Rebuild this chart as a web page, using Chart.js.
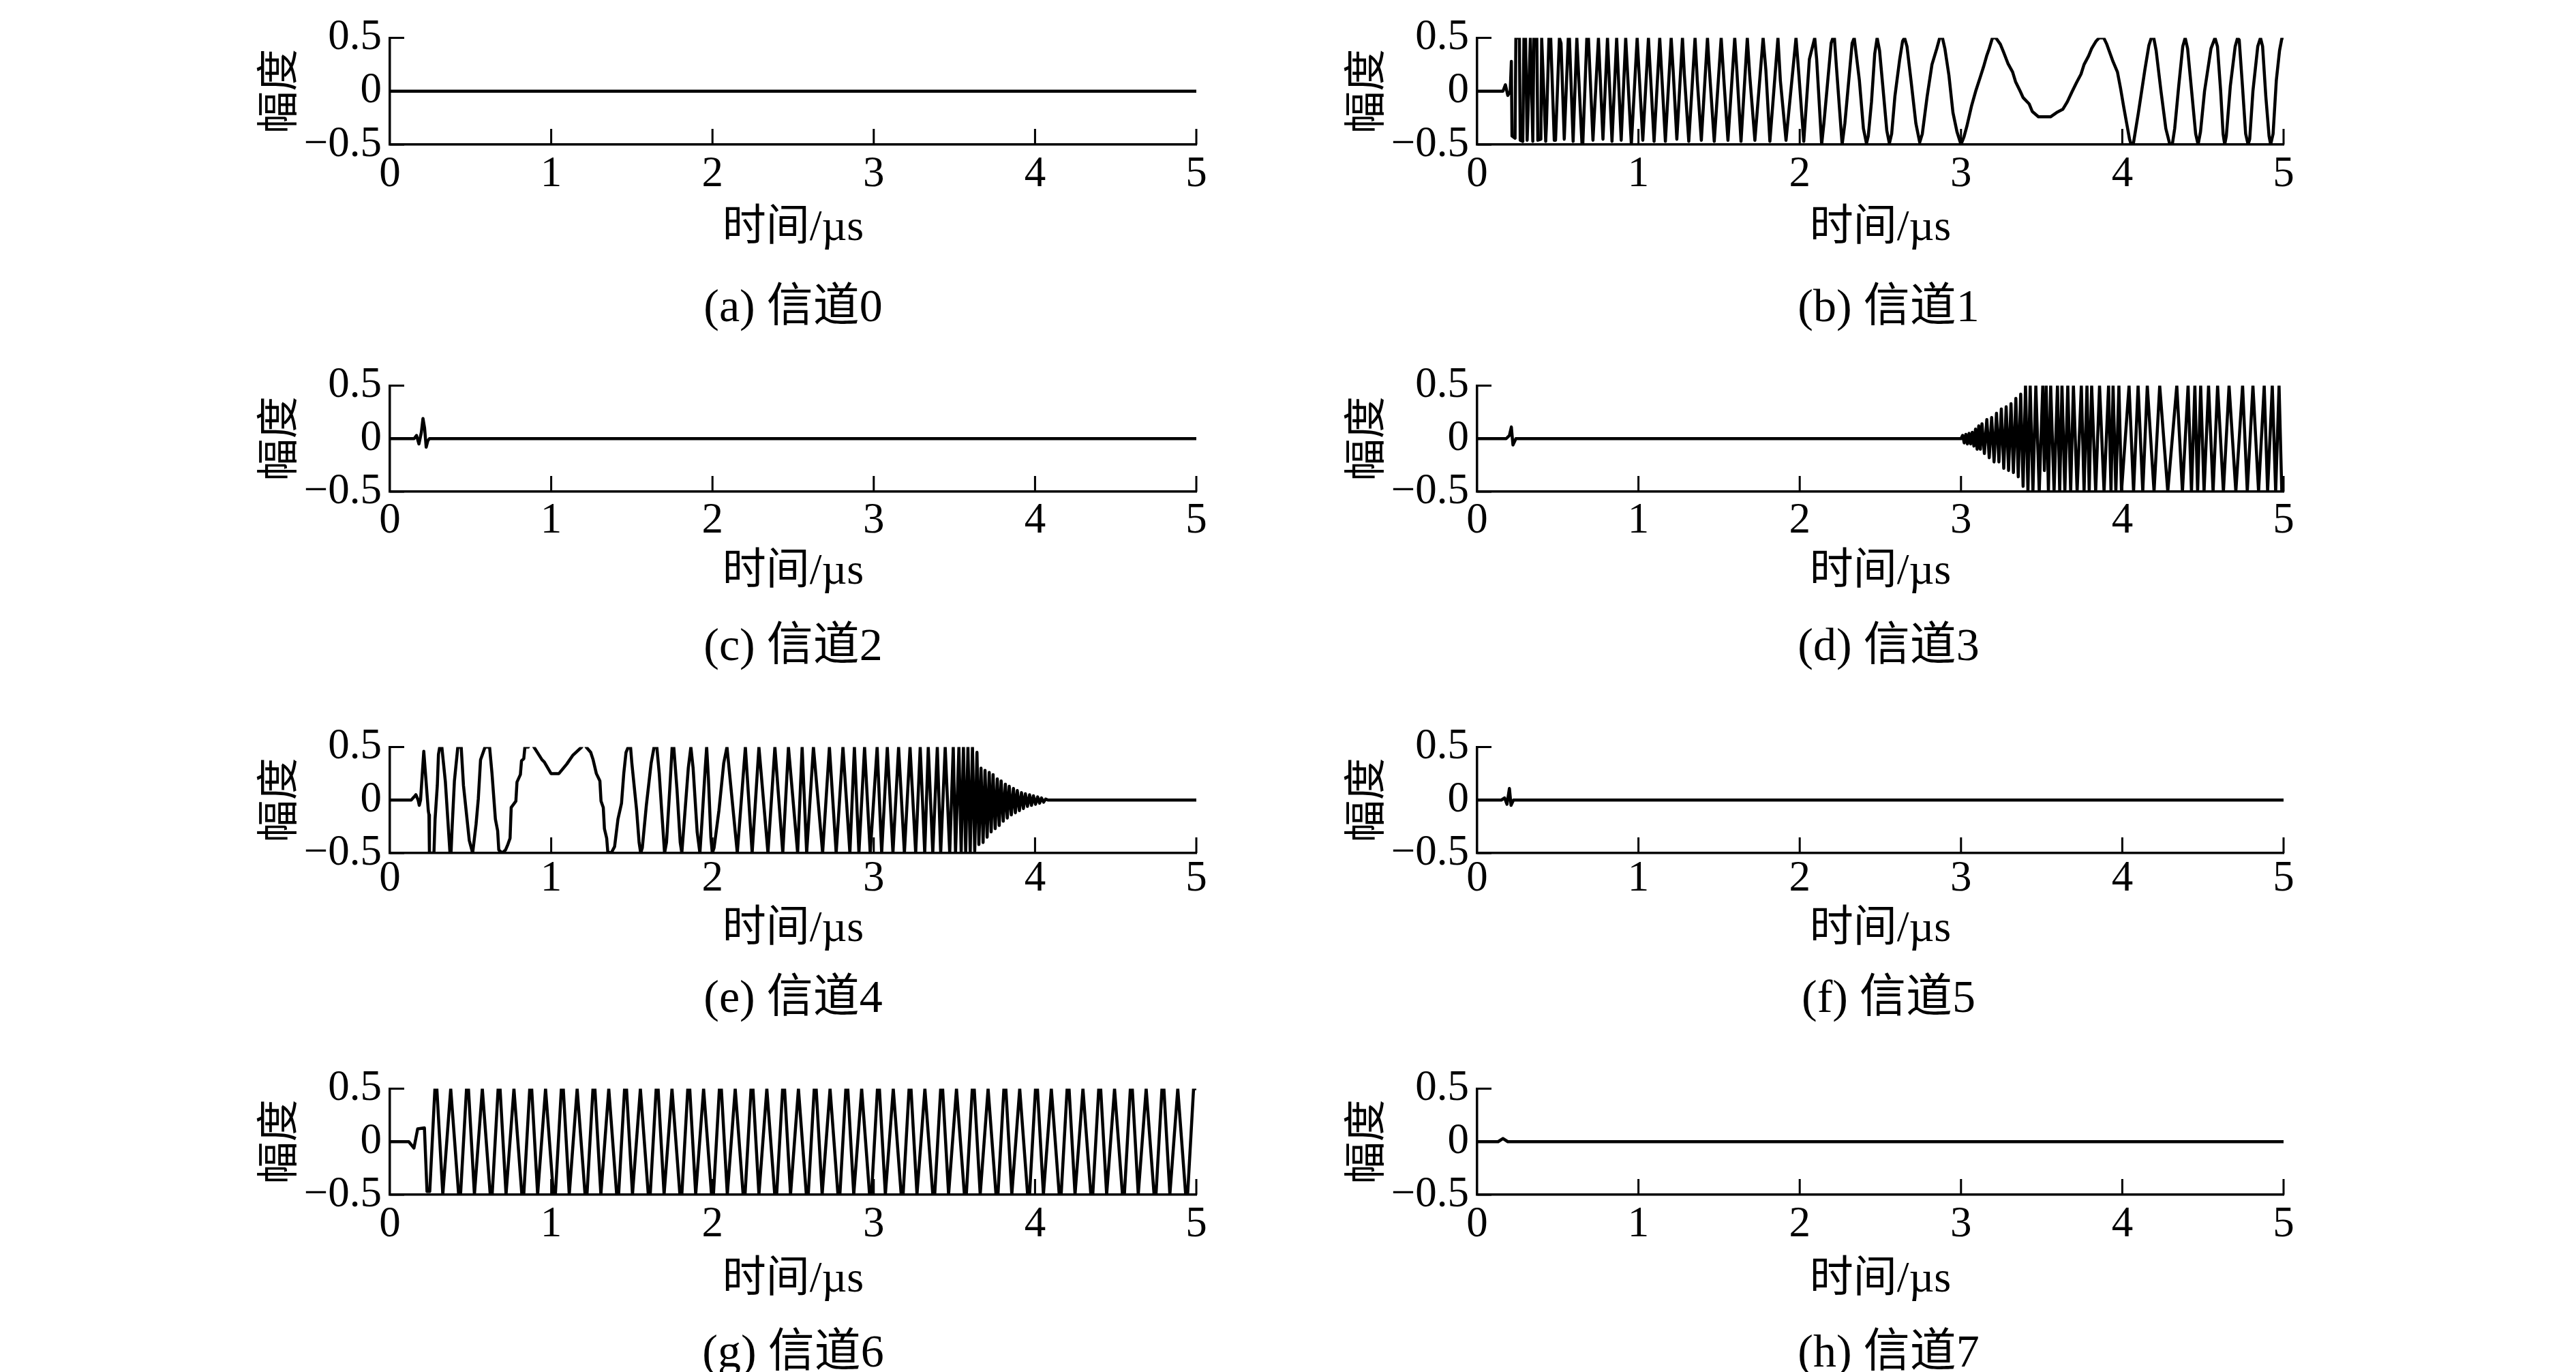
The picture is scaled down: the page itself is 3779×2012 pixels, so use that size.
<!DOCTYPE html>
<html><head><meta charset="utf-8">
<script src="https://cdn.jsdelivr.net/npm/chart.js@4.4.1/dist/chart.umd.min.js"></script>
<style>
html,body{margin:0;padding:0;background:#fff;}
body{width:3779px;height:2012px;position:relative;overflow:hidden;}
canvas{position:absolute;}
.cap{position:absolute;width:800px;text-align:center;font-family:"Liberation Serif","Noto Sans CJK SC",serif;font-size:68px;line-height:68px;color:#000;white-space:nowrap;}
</style></head><body>
<script>
// ---- tick values / labels ----
const xTicks = [0, 1, 2, 3, 4, 5];
const yTicks = [-0.5, 0, 0.5];
const xTitle = '时间/µs';
const yTitle = '幅度';
const captions = ['(a) 信道0', '(b) 信道1', '(c) 信道2', '(d) 信道3', '(e) 信道4', '(f) 信道5', '(g) 信道6', '(h) 信道7'];

// ---- series: [time (µs), amplitude] ----
const ch0 = [[0,0],[5,0]];

const ch1 = [
[0,0],[0.16,0],[0.175,0.06],[0.19,-0.04],[0.205,0],[0.212,0.28],[0.216,-0.42],[0.235,-0.44],
[0.24,0.5],[0.262,0.5],[0.267,-0.46],[0.283,-0.47],[0.29,0.5],[0.3,0.5],[0.31,-0.46],[0.33,0.5],
[0.345,-0.47],[0.352,0.5],[0.37,0.5],[0.376,-0.46],[0.395,-0.45],[0.4,0.5],[0.425,-0.47],[0.43,-0.3],
[0.445,0.5],[0.456,0.5],[0.478,-0.46],[0.486,-0.46],[0.51,0.5],[0.52,0.45],[0.54,-0.45],[0.565,0.5],
[0.572,0.5],[0.595,-0.47],[0.618,0.5],[0.65,-0.5],[0.655,-0.5],[0.68,0.5],[0.69,0.5],[0.718,-0.46],
[0.752,0.5],[0.78,-0.45],[0.808,0.5],[0.836,-0.47],[0.865,0.5],[0.893,-0.46],[0.921,0.5],[0.956,-0.5],
[0.992,0.5],[1.027,-0.46],[1.062,0.5],[1.097,-0.47],[1.132,0.5],[1.167,-0.47],[1.203,0.5],
[1.215,0.2],[1.238,-0.45],[1.273,0.5],[1.285,0.15],[1.312,-0.47],[1.351,0.5],[1.365,0.1],[1.39,-0.46],
[1.428,0.5],[1.44,0.2],[1.47,-0.47],[1.513,0.5],[1.53,0.1],[1.555,-0.46],[1.597,0.5],[1.61,0.2],
[1.636,-0.47],[1.675,0.5],[1.69,0.15],[1.722,-0.46],[1.773,0.5],[1.79,0.2],[1.815,-0.47],[1.865,0.5],
[1.88,0.1],[1.915,-0.46],[1.977,0.5],[1.995,0.15],[2.025,-0.47],[2.06,0.3],[2.093,0.5],
[2.105,0.3],[2.136,-0.5],[2.15,-0.3],[2.195,0.45],[2.206,0.5],[2.215,0.5],[2.228,0.22],[2.263,-0.5],
[2.28,-0.3],[2.325,0.45],[2.338,0.5],[2.35,0.35],[2.37,0.1],[2.395,-0.35],[2.414,-0.49],[2.425,-0.42],
[2.445,-0.1],[2.465,0.35],[2.48,0.5],[2.495,0.38],[2.515,0.05],[2.54,-0.37],[2.556,-0.49],[2.57,-0.4],
[2.59,-0.05],[2.62,0.3],[2.638,0.47],[2.65,0.5],[2.665,0.42],[2.69,0.1],[2.72,-0.3],[2.744,-0.48],
[2.76,-0.4],[2.79,-0.05],[2.82,0.25],[2.85,0.4],[2.868,0.5],[2.885,0.5],[2.9,0.4],[2.925,0.15],
[2.95,-0.2],[2.975,-0.38],[3.0,-0.5],
[3.018,-0.43],[3.036,-0.33],[3.065,-0.14],[3.093,0.01],[3.121,0.14],[3.14,0.23],[3.159,0.33],[3.175,0.4],
[3.195,0.5],[3.216,0.5],[3.244,0.44],[3.263,0.37],[3.291,0.26],[3.32,0.18],[3.338,0.09],[3.367,0],
[3.385,-0.06],[3.423,-0.12],[3.442,-0.19],[3.48,-0.24],[3.555,-0.24],[3.593,-0.2],[3.631,-0.17],
[3.659,-0.1],[3.687,-0.01],[3.716,0.08],[3.744,0.16],[3.763,0.25],[3.791,0.33],[3.81,0.4],[3.838,0.47],
[3.857,0.5],[3.885,0.5],[3.904,0.44],[3.942,0.28],[3.97,0.18],[3.989,0.03],[4.008,-0.14],[4.027,-0.3],
[4.045,-0.45],[4.055,-0.5],
[4.07,-0.48],[4.1,-0.2],[4.14,0.2],[4.165,0.43],[4.18,0.5],[4.195,0.5],[4.21,0.38],[4.24,0],[4.27,-0.35],
[4.295,-0.5],[4.31,-0.5],[4.325,-0.35],[4.35,0.05],[4.375,0.42],[4.39,0.5],[4.405,0.4],[4.43,0],
[4.455,-0.4],[4.47,-0.5],[4.485,-0.38],[4.51,0],[4.55,0.4],[4.575,0.5],[4.59,0.42],[4.61,0],[4.625,-0.4],
[4.635,-0.5],[4.645,-0.42],[4.67,0.05],[4.7,0.42],[4.715,0.5],[4.725,0.48],[4.745,0.05],[4.765,-0.4],
[4.78,-0.5],[4.79,-0.45],[4.81,0],[4.84,0.42],[4.857,0.5],[4.87,0.42],[4.89,-0.05],[4.91,-0.42],
[4.92,-0.5],[4.935,-0.4],[4.955,0.1],[4.975,0.38],[4.99,0.5],[5.0,0.5]
];

const ch2 = [[0,0],[0.15,0],[0.165,0.03],[0.18,-0.05],[0.195,0.06],[0.205,0.19],[0.215,0.1],[0.225,-0.08],[0.235,-0.02],[0.245,0],[5,0]];

const ch3 = [
[0,0],[0.18,0],[0.2,0.03],[0.212,0.11],[0.222,-0.06],[0.24,0],[2.99,0],
[3.0,0],[3.01,0.03],[3.02,-0.04],[3.03,0.04],[3.04,-0.05],[3.05,0.05],[3.06,-0.05],[3.07,0.06],
[3.08,-0.07],[3.09,0.09],[3.1,-0.1],[3.11,0.12],[3.12,-0.1],[3.13,0.14],[3.145,-0.14],[3.16,0.18],
[3.175,-0.18],[3.19,0.2],[3.205,-0.22],[3.22,0.24],[3.235,-0.22],[3.25,0.28],[3.265,-0.28],[3.28,0.3],
[3.295,-0.3],[3.31,0.33],[3.325,-0.32],[3.34,0.38],[3.355,-0.36],[3.37,0.42],[3.385,-0.45],[3.4,0.5],
[3.415,-0.5],
[3.429,0.5],[3.446,-0.5],[3.464,0.5],[3.485,-0.5],[3.507,0.5],[3.517,-0.3],[3.528,0.5],[3.542,-0.5],
[3.556,0.5],[3.577,-0.5],[3.598,0.5],[3.612,-0.5],[3.626,0.5],[3.644,-0.5],[3.662,0.5],[3.68,-0.5],
[3.697,0.5],[3.72,-0.5],[3.746,0.5],[3.763,-0.5],[3.781,0.5],[3.795,-0.5],[3.81,0.5],[3.835,-0.5],
[3.859,0.5],[3.887,-0.5],[3.915,0.5],[3.93,-0.5],[3.943,0.5],[3.96,-0.5],[3.979,0.5],[3.995,-0.5],
[4.042,0.5],[4.07,-0.5],[4.098,0.5],[4.127,-0.5],[4.155,0.5],[4.197,-0.5],[4.232,0.5],[4.282,-0.5],
[4.338,0.5],[4.373,-0.5],[4.408,0.5],[4.429,-0.5],[4.45,0.5],[4.467,-0.5],[4.486,0.5],[4.507,-0.5],
[4.535,0.5],[4.563,-0.5],[4.591,0.5],[4.627,-0.5],[4.662,0.5],[4.704,-0.5],[4.746,0.5],[4.775,-0.5],
[4.81,0.5],[4.845,-0.5],[4.88,0.5],[4.901,-0.5],[4.93,0.5],[4.951,-0.5],[4.972,0.5],[4.989,-0.5],[5.0,-0.4]
];

const ch4 = [
[0,0],[0.132,0],[0.15,0.03],[0.161,0.05],[0.175,0],[0.182,-0.05],[0.19,0],[0.21,0.46],[0.238,-0.1],
[0.242,-0.14],[0.245,-0.5],[0.273,-0.5],[0.28,-0.18],[0.294,0.14],[0.301,0.43],[0.309,0.5],[0.322,0.5],
[0.344,0.17],[0.372,-0.49],[0.379,-0.5],[0.386,-0.25],[0.4,0.18],[0.421,0.5],[0.442,0.5],[0.456,0.14],
[0.492,-0.38],[0.513,-0.5],[0.534,-0.23],[0.548,0.01],[0.562,0.38],[0.59,0.5],[0.618,0.5],[0.633,0.25],
[0.654,-0.18],[0.668,-0.29],[0.675,-0.47],[0.696,-0.5],[0.717,-0.47],[0.731,-0.42],[0.745,-0.36],
[0.752,-0.07],[0.781,-0.01],[0.788,0.17],[0.809,0.24],[0.816,0.37],[0.83,0.39],[0.837,0.5],[0.858,0.5],
[0.876,0.56],[0.893,0.5],[0.943,0.38],[0.957,0.36],[0.999,0.25],[1.048,0.25],[1.097,0.34],[1.133,0.42],
[1.189,0.5],[1.203,0.56],[1.217,0.5],[1.245,0.45],[1.26,0.38],[1.28,0.25],[1.302,0.18],[1.309,-0.01],
[1.323,-0.07],[1.33,-0.27],[1.344,-0.36],[1.351,-0.49],[1.372,-0.5],[1.393,-0.44],[1.414,-0.18],
[1.436,-0.03],[1.45,0.25],[1.464,0.45],[1.478,0.5],[1.492,0.5],
[1.5,0.35],[1.53,-0.1],[1.545,-0.4],[1.555,-0.5],[1.565,-0.45],[1.59,-0.05],[1.62,0.35],[1.638,0.5],
[1.655,0.5],[1.67,0.25],[1.685,-0.1],[1.703,-0.5],[1.715,-0.4],[1.735,0.1],[1.75,0.5],[1.76,0.5],
[1.78,0.1],[1.8,-0.4],[1.81,-0.5],[1.825,-0.2],[1.85,0.3],[1.866,0.5],[1.88,0.3],[1.905,-0.3],
[1.922,-0.5],[1.935,-0.2],[1.955,0.3],[1.964,0.5],[1.975,0.2],[1.99,-0.35],[1.999,-0.5],[2.01,-0.45],
[2.04,-0.1],[2.07,0.35],[2.09,0.5],
[2.154,-0.5],[2.204,0.5],[2.246,-0.5],[2.288,0.5],[2.344,-0.5],[2.387,0.5],[2.436,-0.5],[2.471,0.5],
[2.528,-0.5],[2.556,0.5],[2.584,-0.5],[2.626,0.5],[2.683,-0.5],[2.725,0.5],[2.767,-0.5],[2.809,0.5],
[2.852,-0.5],[2.88,0.5],[2.908,-0.5],[2.943,0.5],[2.978,-0.5],[3.021,0.5],[3.049,-0.5],[3.084,0.5],
[3.119,-0.5],[3.154,0.5],[3.19,-0.5],[3.225,0.5],[3.26,-0.5],[3.288,0.5],[3.316,-0.5],[3.338,0.5],
[3.366,-0.5],[3.394,0.5],[3.415,-0.5],[3.443,0.5],[3.471,-0.5],[3.493,0.5],[3.507,-0.5],[3.528,0.5],
[3.542,-0.5],[3.556,0.5],[3.57,-0.5],[3.584,0.5],[3.598,-0.5],[3.612,0.5],[3.626,-0.48],[3.64,0.45],
[3.652,-0.42],[3.665,0.3],[3.678,-0.4],[3.69,0.28],[3.703,-0.35],[3.716,0.26],[3.728,-0.3],[3.74,0.24],
[3.753,-0.27],[3.766,0.2],[3.778,-0.24],[3.79,0.18],[3.803,-0.2],[3.816,0.15],[3.828,-0.17],[3.84,0.13],
[3.853,-0.14],[3.866,0.11],[3.878,-0.12],[3.89,0.09],[3.903,-0.1],[3.916,0.07],[3.928,-0.08],[3.94,0.06],
[3.953,-0.06],[3.966,0.05],[3.978,-0.05],[3.99,0.04],[4.003,-0.04],[4.016,0.03],[4.028,-0.03],[4.04,0.02],
[4.053,-0.02],[4.066,0.01],[4.08,0],[5,0]
];

const ch5 = [[0,0],[0.15,0],[0.17,0.02],[0.185,-0.04],[0.2,0.11],[0.21,-0.05],[0.225,0],[5,0]];

const ch6 = [
[0,0],[0.117,0],[0.149,-0.06],[0.172,0.12],[0.214,0.13],[0.23,-0.47],[0.247,-0.47],
[0.279,0.5],[0.291,0.5],[0.328,-0.5],[0.377,0.5],[0.426,-0.5],[0.438,-0.5],[0.475,0.5],[0.487,0.5],
[0.524,-0.5],[0.573,0.5],[0.622,-0.5],[0.634,-0.5],[0.671,0.5],[0.683,0.5],[0.72,-0.5],[0.769,0.5],
[0.818,-0.5],[0.83,-0.5],[0.867,0.5],[0.879,0.5],[0.916,-0.5],[0.965,0.5],[1.014,-0.5],[1.026,-0.5],
[1.063,0.5],[1.075,0.5],[1.112,-0.5],[1.161,0.5],[1.21,-0.5],[1.222,-0.5],[1.259,0.5],[1.271,0.5],
[1.308,-0.5],[1.357,0.5],[1.406,-0.5],[1.418,-0.5],[1.455,0.5],[1.467,0.5],[1.504,-0.5],[1.553,0.5],
[1.602,-0.5],[1.614,-0.5],[1.651,0.5],[1.663,0.5],[1.7,-0.5],[1.749,0.5],[1.798,-0.5],[1.81,-0.5],
[1.847,0.5],[1.859,0.5],[1.896,-0.5],[1.945,0.5],[1.994,-0.5],[2.006,-0.5],[2.043,0.5],[2.055,0.5],
[2.092,-0.5],[2.141,0.5],[2.19,-0.5],[2.202,-0.5],[2.239,0.5],[2.251,0.5],[2.288,-0.5],[2.337,0.5],
[2.386,-0.5],[2.398,-0.5],[2.435,0.5],[2.447,0.5],[2.484,-0.5],[2.533,0.5],[2.582,-0.5],[2.594,-0.5],
[2.631,0.5],[2.643,0.5],[2.68,-0.5],[2.729,0.5],[2.778,-0.5],[2.79,-0.5],[2.827,0.5],[2.839,0.5],
[2.876,-0.5],[2.925,0.5],[2.974,-0.5],[2.986,-0.5],[3.023,0.5],[3.035,0.5],[3.072,-0.5],[3.121,0.5],
[3.17,-0.5],[3.182,-0.5],[3.219,0.5],[3.231,0.5],[3.268,-0.5],[3.317,0.5],[3.366,-0.5],[3.378,-0.5],
[3.415,0.5],[3.427,0.5],[3.464,-0.5],[3.513,0.5],[3.562,-0.5],[3.574,-0.5],[3.611,0.5],[3.623,0.5],
[3.66,-0.5],[3.709,0.5],[3.758,-0.5],[3.77,-0.5],[3.807,0.5],[3.819,0.5],[3.856,-0.5],[3.905,0.5],
[3.954,-0.5],[3.966,-0.5],[4.003,0.5],[4.015,0.5],[4.052,-0.5],[4.101,0.5],[4.15,-0.5],[4.162,-0.5],
[4.199,0.5],[4.211,0.5],[4.248,-0.5],[4.297,0.5],[4.346,-0.5],[4.358,-0.5],[4.395,0.5],[4.407,0.5],
[4.444,-0.5],[4.493,0.5],[4.542,-0.5],[4.554,-0.5],[4.591,0.5],[4.603,0.5],[4.64,-0.5],[4.689,0.5],
[4.738,-0.5],[4.75,-0.5],[4.787,0.5],[4.799,0.5],[4.836,-0.5],[4.885,0.5],[4.934,-0.5],[4.946,-0.5],
[4.983,0.5],[5.0,0.5]
];

const ch7 = [[0,0],[0.13,0],[0.16,0.03],[0.19,0],[5,0]];

const channels = [ch0, ch1, ch2, ch3, ch4, ch5, ch6, ch7];

// ---- layout (pixels) ----
const colLeft = [572, 2167];
const plotW = 1183;
const rowBox = [
  {top: 52,   bottom: 212,  lab: 44, tit: 123, cap: 236},
  {top: 562,  bottom: 721,  lab: 43, tit: 118, cap: 224},
  {top: 1092, bottom: 1251, lab: 38, tit: 112, cap: 210},
  {top: 1593, bottom: 1752, lab: 44, tit: 125, cap: 229}
];
const padL = 240, padT = 40, padR = 40, xAxisH = 260;
const serif = '"Liberation Serif", "Noto Sans CJK SC", serif';

Chart.defaults.color = '#000';
Chart.defaults.font.family = serif;

const inTicks = {
  id: 'inTicks',
  afterDraw(chart) {
    const {ctx, chartArea: a, scales: {x, y}} = chart;
    ctx.save();
    ctx.strokeStyle = '#000';
    ctx.lineWidth = 3;
    ctx.beginPath();
    xTicks.forEach(v => { if (v === 0) return; const p = x.getPixelForValue(v); ctx.moveTo(p, a.bottom); ctx.lineTo(p, a.bottom - 23); });
    yTicks.forEach(v => { const p = y.getPixelForValue(v); ctx.moveTo(a.left, p); ctx.lineTo(a.left + 21, p); });
    ctx.stroke();
    ctx.restore();
  }
};

for (let i = 0; i < 8; i++) {
  const col = i % 2, row = Math.floor(i / 2);
  const r = rowBox[row];
  const h = r.bottom - r.top;
  const W = padL + plotW + padR, H = padT + h + xAxisH;
  const cv = document.createElement('canvas');
  cv.width = W; cv.height = H;
  cv.style.left = (colLeft[col] - padL) + 'px';
  cv.style.top = (r.top - padT) + 'px';
  cv.style.width = W + 'px'; cv.style.height = H + 'px';
  document.body.appendChild(cv);

  new Chart(cv, {
    type: 'line',
    data: { datasets: [{
      data: channels[i],
      borderColor: '#000',
      borderWidth: 4.5,
      borderJoinStyle: 'round',
      pointRadius: 0,
      tension: 0,
      fill: false
    }]},
    options: {
      responsive: false,
      animation: false,
      devicePixelRatio: 1,
      events: [],
      layout: { autoPadding: false, padding: {left: 0, top: padT, right: padR, bottom: 0} },
      plugins: { legend: {display: false}, tooltip: {enabled: false} },
      scales: {
        x: {
          type: 'linear', min: 0, max: 5,
          afterFit: s => { s.height = xAxisH; },
          grid: { display: false, drawTicks: false },
          border: { display: true, width: 3.5, color: '#000' },
          ticks: {
            stepSize: 1, autoSkip: false, maxRotation: 0,
            padding: r.lab - 31.5,
            font: { size: 63, family: serif, lineHeight: 1 },
            color: '#000'
          },
          title: {
            display: true, text: xTitle, color: '#000',
            font: { size: 64, family: serif, lineHeight: 1 },
            padding: { top: 0, bottom: xAxisH - 32 - r.tit }
          }
        },
        y: {
          type: 'linear', min: -0.5, max: 0.5,
          afterFit: s => { s.width = padL; },
          grid: { display: false, drawTicks: false },
          border: { display: true, width: 3.5, color: '#000' },
          ticks: {
            stepSize: 0.5, autoSkip: false, padding: 12,
            font: { size: 63, family: serif, lineHeight: 1 },
            color: '#000',
            callback: v => (v < 0 ? '\u2212' + Math.abs(v) : String(v))
          },
          title: {
            display: true, text: yTitle, color: '#000',
            font: { size: 62, family: serif, lineHeight: 1 },
            padding: { top: padL - 158 - 31, bottom: 0 }
          }
        }
      }
    },
    plugins: [inTicks]
  });

  const cap = document.createElement('div');
  cap.className = 'cap';
  cap.textContent = captions[i];
  cap.style.left = (colLeft[col] + plotW / 2 - 400 + (col ? 12 : 0)) + 'px';
  cap.style.top = (r.bottom + r.cap - 34) + 'px';
  document.body.appendChild(cap);
}
</script>
</body></html>
